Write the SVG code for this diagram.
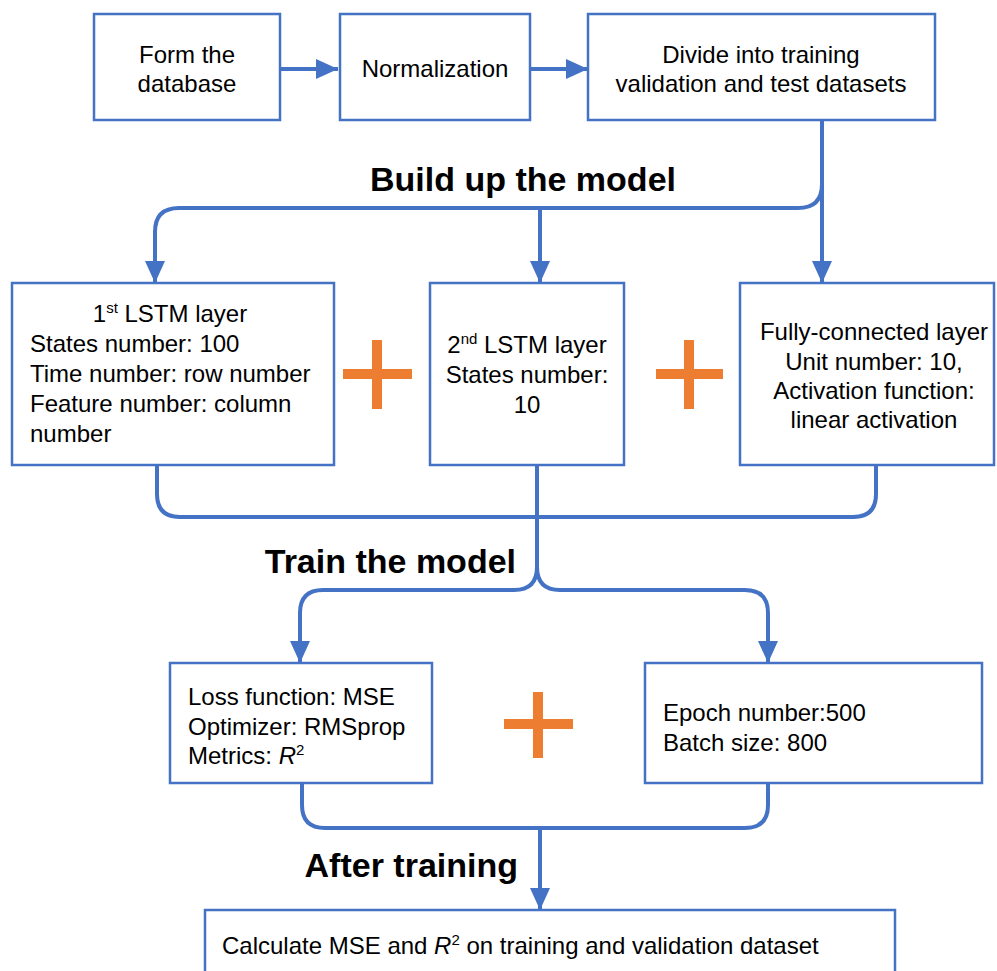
<svg xmlns="http://www.w3.org/2000/svg" width="997" height="971" viewBox="0 0 997 971">
<defs>
<marker id="ah" markerUnits="userSpaceOnUse" markerWidth="22" markerHeight="20" refX="22" refY="10" orient="auto">
<path d="M0,0 L22,10 L0,20 z" fill="#4472C4"/>
</marker>
<style>
.box{fill:#fff;stroke:#4472C4;stroke-width:2.5}
.t{font-family:"Liberation Sans",Arial,sans-serif;font-size:24px;fill:#000}
.c{text-anchor:middle}
.h{font-family:"Liberation Sans",Arial,sans-serif;font-size:34px;font-weight:bold;fill:#000}
.con{fill:none;stroke:#4472C4;stroke-width:4}
.plus{stroke:#ED7D31;stroke-width:10;fill:none}
</style>
</defs>
<rect width="997" height="971" fill="#fff"/>

<g id="connectors">
<path class="con" d="M280,69 L338,69" marker-end="url(#ah)"/>
<path class="con" d="M530,69 L588,69" marker-end="url(#ah)"/>
<path class="con" d="M822,120 L822,283" marker-end="url(#ah)"/>
<path class="con" d="M822,184 Q822,208 798,208 L179,208 Q155,208 155,232 L155,283" marker-end="url(#ah)"/>
<path class="con" d="M540,208 L540,283" marker-end="url(#ah)"/>
<path class="con" d="M157,465 L157,494 Q157,517 180,517 L853,517 Q876,517 876,494 L876,465"/>
<path class="con" d="M537,465 L537,567 Q537,590 514,590 L323,590 Q300,590 300,613 L300,663" marker-end="url(#ah)"/>
<path class="con" d="M537,567 Q537,590 560,590 L745,590 Q768,590 768,613 L768,663" marker-end="url(#ah)"/>
<path class="con" d="M302,783 L302,805 Q302,828 325,828 L745,828 Q768,828 768,805 L768,783"/>
<path class="con" d="M540,828 L540,910" marker-end="url(#ah)"/>
</g>

<g id="labels">
<text class="h c" x="523" y="191">Build up the model</text>
<text class="h" x="516" y="573" text-anchor="end">Train the model</text>
<text class="h" x="518" y="877" text-anchor="end">After training</text>
</g>

<g id="n1">
<rect class="box" x="94" y="14" width="186" height="106"/>
<text class="t c" x="187" y="63">Form the</text>
<text class="t c" x="187" y="92">database</text>
</g>
<g id="n2">
<rect class="box" x="340" y="14" width="190" height="106"/>
<text class="t c" x="435" y="77">Normalization</text>
</g>
<g id="n3">
<rect class="box" x="588" y="14" width="347" height="106"/>
<text class="t c" x="761" y="63">Divide into training</text>
<text class="t c" x="761" y="92">validation and test datasets</text>
</g>

<g id="n4">
<rect class="box" x="12" y="283" width="322" height="182"/>
<text class="t c" x="170" y="322">1<tspan font-size="15" dy="-9">st</tspan><tspan dy="9"> LSTM layer</tspan></text>
<text class="t" x="30" y="352">States number: 100</text>
<text class="t" x="30" y="382">Time number: row number</text>
<text class="t" x="30" y="412">Feature number: column</text>
<text class="t" x="30" y="442">number</text>
</g>
<g id="plus1"><path class="plus" d="M343,374 L412,374 M377,340 L377,409"/></g>
<g id="n5">
<rect class="box" x="430" y="283" width="194" height="182"/>
<text class="t c" x="527" y="353">2<tspan font-size="15" dy="-9">nd</tspan><tspan dy="9"> LSTM layer</tspan></text>
<text class="t c" x="527" y="383">States number:</text>
<text class="t c" x="527" y="413">10</text>
</g>
<g id="plus2"><path class="plus" d="M656,374 L723,374 M689,340 L689,409"/></g>
<g id="n6">
<rect class="box" x="740" y="283" width="254" height="182"/>
<text class="t c" x="874" y="340">Fully-connected layer</text>
<text class="t c" x="874" y="370">Unit number: 10,</text>
<text class="t c" x="874" y="399">Activation function:</text>
<text class="t c" x="874" y="428">linear activation</text>
</g>

<g id="n7">
<rect class="box" x="170" y="663" width="262" height="120"/>
<text class="t" x="188" y="705">Loss function: MSE</text>
<text class="t" x="188" y="735">Optimizer: RMSprop</text>
<text class="t" x="188" y="764">Metrics: <tspan font-style="italic">R</tspan><tspan font-size="15" dy="-9">2</tspan></text>
</g>
<g id="plus3"><path class="plus" d="M504,724 L573,724 M538,692 L538,758"/></g>
<g id="n8">
<rect class="box" x="645" y="663" width="337" height="120"/>
<text class="t" x="663" y="721">Epoch number:500</text>
<text class="t" x="663" y="751">Batch size: 800</text>
</g>

<g id="n9">
<rect class="box" x="205" y="910" width="690" height="80"/>
<text class="t" x="222" y="954">Calculate MSE and <tspan font-style="italic">R</tspan><tspan font-size="15" dy="-9">2</tspan><tspan dy="9"> on training and validation dataset</tspan></text>
</g>
</svg>
